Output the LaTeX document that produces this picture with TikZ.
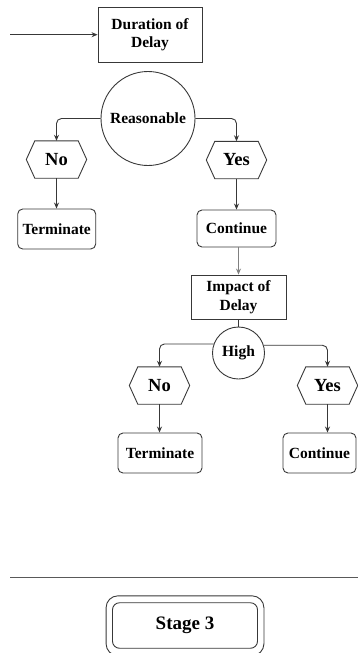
\documentclass[tikz,border=0pt]{standalone}
\usepackage{fontspec}
\setmainfont{Liberation Serif}
\usetikzlibrary{arrows.meta}

\tikzset{
  ink/.style={draw=black!78, line width=0.9pt},
  lbl/.style={font=\fontsize{15.5pt}{18.5pt}\selectfont\bfseries, text=black, align=center, inner sep=0pt},
  plainbox/.style={lbl, ink, rectangle},
  roundbox/.style={lbl, ink, rectangle, rounded corners=5pt},
  decision/.style={lbl, ink, circle},
  hexbox/.style={lbl, rectangle, minimum width=43pt, minimum height=37pt,
                 font=\fontsize{18.5pt}{20pt}\selectfont\bfseries},
  link/.style={ink, -{Stealth[length=6pt,width=5pt]}},
  softlink/.style={link, draw=black!50},
}

% hexagon outline around a hexbox node: flat top and bottom, points left and right
\newcommand\hexframe[1]{%
  \draw[ink] (#1.north west) -- (#1.north east) -- ([xshift=8.5pt]#1.east)
    -- (#1.south east) -- (#1.south west) -- ([xshift=-8.5pt]#1.west) -- cycle;}

\begin{document}
\begin{tikzpicture}[x=1pt, y=-1pt]
\useasboundingbox (0,0) rectangle (358,653);

% first question: duration of the delay
\node[plainbox, minimum width=104pt, minimum height=55pt] (dur) at (150,34.7) {Duration of\\Delay};
\coordinate (entry) at (10,34.7);
\draw[link] (entry) -- (dur.west);

\node[decision, minimum size=94pt] (reas) at (148,118.5) {Reasonable};

\node[hexbox] (no1) at (56.5,159.5) {No};
\hexframe{no1}
\node[hexbox] (yes1) at (236.5,160) {Yes};
\hexframe{yes1}

\draw[link, rounded corners=5pt] (reas.west) -| (no1.north);
\draw[link, rounded corners=5pt] (reas.east) -| (yes1.north);

\node[roundbox, minimum width=78pt, minimum height=40pt] (term1) at (56.7,229) {Terminate};
\node[roundbox, minimum width=79pt, minimum height=37pt] (cont1) at (236.5,228.5) {Continue};
\draw[link] (no1.south) -- (no1.south |- term1.north);
\draw[link] (yes1.south) -- (yes1.south |- cont1.north);

% second question: impact of the delay
\node[plainbox, minimum width=95pt, minimum height=44pt] (impact) at (238.5,297) {Impact of\\Delay};
\draw[softlink] (cont1.south -| impact.north) -- (impact.north);

\node[decision, minimum size=52pt] (high) at (238.5,353) {High};
\draw[ink] (impact.south) -- (high.north);

\node[hexbox] (no2) at (159.5,385.5) {No};
\hexframe{no2}
\node[hexbox] (yes2) at (327.5,385.5) {Yes};
\hexframe{yes2}

\draw[link, rounded corners=5pt] (high.160) -| (no2.north);
\draw[link, rounded corners=5pt] (high.17) -| (yes2.north);

\node[roundbox, minimum width=84pt, minimum height=40pt] (term2) at (160,453) {Terminate};
\node[roundbox, minimum width=73pt, minimum height=40pt] (cont2) at (319.5,453) {Continue};
\draw[link] (no2.south) -- (no2.south |- term2.north);
\draw[link] (yes2.south) -- (yes2.south |- cont2.north);

% divider
\coordinate (divL) at (10,577.7);
\coordinate (divR) at (358,577.7);
\draw[draw=black!65, line width=1.4pt] (divL) -- (divR);

% stage label with a double rounded frame
\node[roundbox, rounded corners=7pt, minimum width=145pt, minimum height=45.5pt,
      font=\fontsize{19pt}{21pt}\selectfont\bfseries] (stage) at (185,625.5) {Stage 3};
\draw[ink, rounded corners=12pt] ([shift={(-6pt,6.5pt)}]stage.north west)
  rectangle ([shift={(6pt,-7pt)}]stage.south east);
\end{tikzpicture}
\end{document}
